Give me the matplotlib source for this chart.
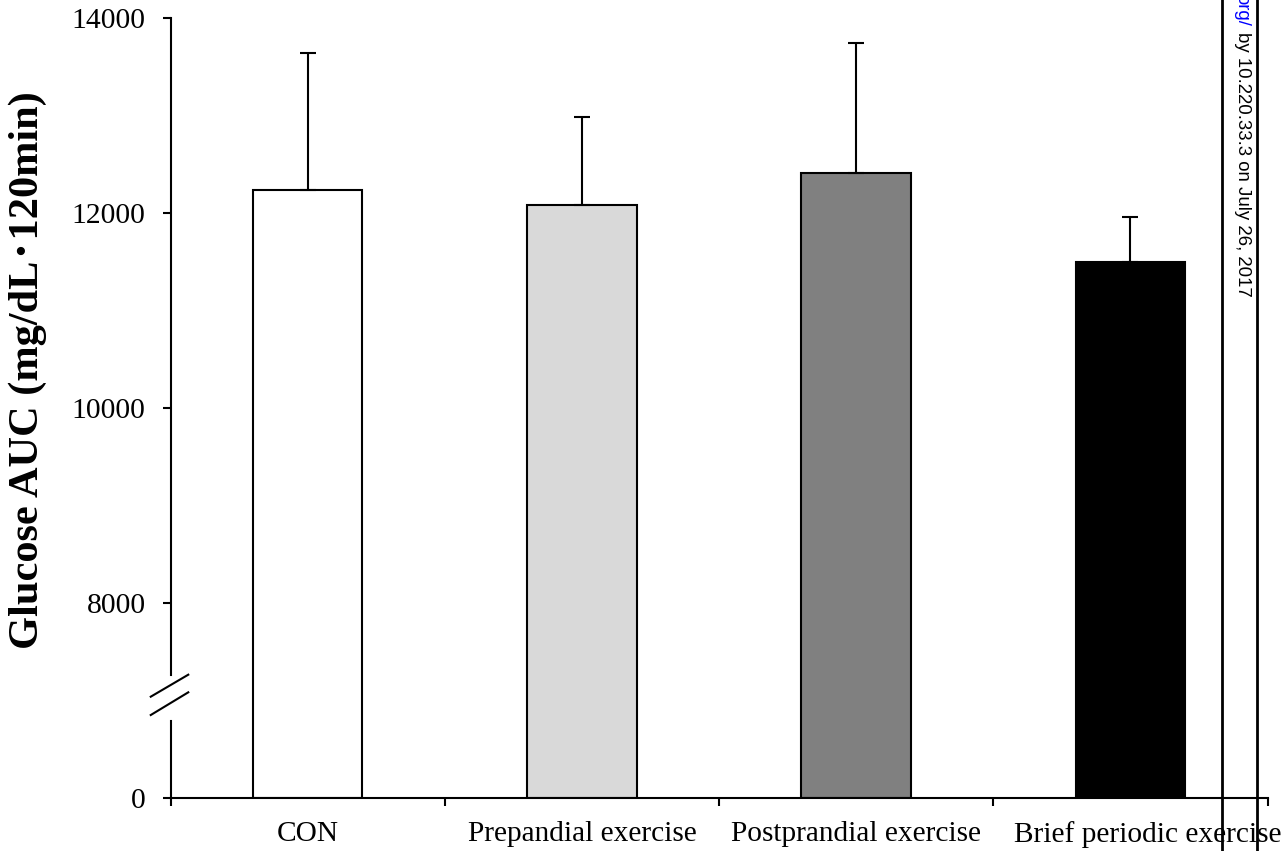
import numpy as np
import matplotlib
matplotlib.use("Agg")
import matplotlib.pyplot as plt
from matplotlib.lines import Line2D
from matplotlib.transforms import ScaledTranslation

categories = ["CON", "Prepandial exercise", "Postprandial exercise", "Brief periodic exercise"]
auc_mean = [12233, 12079, 12410, 11494]
auc_sd = [1405, 906, 1327, 465]
bar_colors = ["#ffffff", "#d9d9d9", "#808080", "#000000"]
y_ticks = [0, 8000, 10000, 12000, 14000]
y_label = "Glucose AUC (mg/dL\uff65120min)"
watermark_link = "org/"
watermark_text = "by 10.220.33.3 on July 26, 2017"

plt.rcParams['font.family'] = ['Liberation Serif', 'DejaVu Serif']

W, H = 1282, 851
fig = plt.figure(figsize=(W / 100, H / 100), dpi=100)
ax_l, ax_r, ax_t, ax_b = 170.5, 1267.5, 17.7, 797.7
ax = fig.add_axes([ax_l / W, 1 - ax_b / H, (ax_r - ax_l) / W, (ax_b - ax_t) / H])


def fwd(v):
    v = np.asarray(v, dtype=float)
    return np.where(v >= 8000, v, 6000 + v / 4.0)


def inv(u):
    u = np.asarray(u, dtype=float)
    return np.where(u >= 8000, u, (u - 6000) * 4.0)


ax.set_yscale('function', functions=(fwd, inv))
ax.set_ylim(0, 14000)
ax.set_xlim(0, len(categories))

x = np.arange(len(categories)) + 0.5
ax.bar(x, auc_mean, width=0.4, color=bar_colors, edgecolor='black', linewidth=1.5, zorder=2)
ax.errorbar(x, auc_mean, yerr=[np.zeros(len(auc_sd)), auc_sd], fmt='none', ecolor='black',
            elinewidth=1.5, capsize=5.5, capthick=1.5, zorder=3)

ax.set_yticks(y_ticks)
ax.set_yticklabels([str(t) for t in y_ticks])
ax.set_xticks(np.arange(len(categories) + 1))
ax.set_xticklabels([])
ax.set_xticks(x, minor=True)
ax.set_xticklabels(categories, minor=True)
ax.tick_params(axis='x', which='major', direction='out', length=6, width=1.5)
ax.tick_params(axis='x', which='minor', length=0, pad=17, labelsize=21.2)
ax.tick_params(axis='y', direction='out', length=6, width=1.5, pad=12, labelsize=21.3)

# last category label sits a little to the right in the reference
last_lbl = ax.get_xticklabels(minor=True)[-1]
last_lbl.set_transform(last_lbl.get_transform() + ScaledTranslation(17 / 100, 0, fig.dpi_scale_trans))

for s in ['top', 'right', 'left']:
    ax.spines[s].set_visible(False)
ax.spines['bottom'].set_linewidth(1.5)

# left spine drawn with a break
gap_lo, gap_hi = 0.0985, 0.1573
ax.add_line(Line2D([0, 0], [0, gap_lo], transform=ax.transAxes, color='black', lw=1.5, clip_on=False))
ax.add_line(Line2D([0, 0], [gap_hi, 1], transform=ax.transAxes, color='black', lw=1.5, clip_on=False))
ax.add_line(Line2D([-0.018, 0.0162], [0.1295, 0.1577], transform=ax.transAxes, color='black', lw=1.5, clip_on=False))
ax.add_line(Line2D([-0.018, 0.0162], [0.1060, 0.1351], transform=ax.transAxes, color='black', lw=1.5, clip_on=False))

fig.text(28 / W, 1 - 370 / H, y_label, rotation=90, ha='center', va='center',
         fontsize=30.5, fontweight='bold',
         family=['Liberation Serif', 'Noto Sans CJK JP'])

# watermark strip
for xp in [1222, 1256.5]:
    fig.add_artist(Line2D([xp / W, xp / W], [0, 1], transform=fig.transFigure, color='black', lw=2))
fig.text(1242 / W, 1 - 26 / H, watermark_link, rotation=-90, ha='center', va='bottom',
         fontsize=13.4, color='#0000ff', family='Liberation Sans')
fig.text(1242 / W, 1 - 297 / H, watermark_text, rotation=-90, ha='center', va='bottom',
         fontsize=13.4, color='black', family='Liberation Sans')

fig.savefig("out.png", dpi=100)
